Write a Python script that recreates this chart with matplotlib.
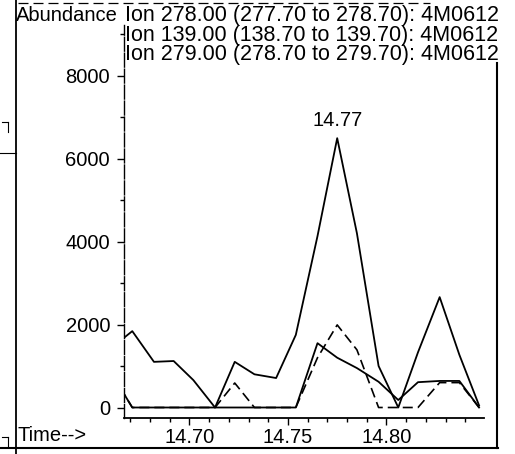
import numpy as np
import matplotlib
matplotlib.use("Agg")
import matplotlib.pyplot as plt
from matplotlib.lines import Line2D
from matplotlib.ticker import MultipleLocator

plt.rcParams['font.family'] = ['Liberation Sans', 'DejaVu Sans']

# retention time (min)
times = [14.661, 14.671, 14.682, 14.692, 14.702, 14.713, 14.723, 14.733, 14.744, 14.754,
         14.765, 14.775, 14.785, 14.796, 14.806, 14.816, 14.827, 14.837, 14.847]
# abundance per ion trace
ion278 = [1460, 1840, 1100, 1120, 660, 0, 1100, 800, 710, 1750,
          4130, 6490, 4200, 1000, 0, 1330, 2660, 1270, 50]
ion139 = [780, 0, 0, 0, 0, 0, 590, 0, 0, 0,
          1200, 1990, 1390, 0, 0, 0, 600, 600, 0]
ion279 = [780, 0, 0, 0, 0, 0, 0, 0, 0, 0,
          1550, 1200, 950, 620, 180, 610, 640, 640, 0]

legend_lines = ["Ion 278.00 (277.70 to 278.70): 4M0612",
                "Ion 139.00 (138.70 to 139.70): 4M0612",
                "Ion 279.00 (278.70 to 279.70): 4M0612"]
peak_label = "14.77"
y_ticks = [0, 2000, 4000, 6000, 8000]
x_ticks = [14.70, 14.75, 14.80]

W, H = 515, 454
fig = plt.figure(figsize=(W / 100, H / 100), dpi=100)

def fx(px):
    return px / W

def fy(py):
    return 1 - py / H

ax = fig.add_axes([fx(124), fy(418), fx(484) - fx(124), fy(25) - fy(418)])
ax.set_xlim(14.6668, 14.8495)
ax.set_ylim(-253, 9217)

ax.plot(times, ion278, color='black', lw=1.3)
ax.plot(times, ion139, color='black', lw=1.2, ls=(0, (6, 3)))
ax.plot(times, ion279, color='black', lw=1.3)

i_max = int(np.argmax(ion278))
ax.annotate(peak_label, (times[i_max], ion278[i_max]), xytext=(0, 6),
            textcoords='offset points', ha='center', va='bottom', fontsize=14.5)

for s in ['top', 'right']:
    ax.spines[s].set_visible(False)
ax.spines['left'].set_linewidth(1.0)
ax.spines['left'].set_linestyle((0, (10, 1.5)))
ax.spines['bottom'].set_linewidth(1.3)

ax.set_yticks(y_ticks)
ax.set_yticklabels([str(v) for v in y_ticks])
ax.yaxis.set_minor_locator(MultipleLocator(1000))
ax.set_xticks(x_ticks)
ax.set_xticklabels([f"{v:.2f}" for v in x_ticks])
ax.xaxis.set_minor_locator(MultipleLocator(0.01))
ax.tick_params(axis='both', which='major', labelsize=14.5, length=5, width=1, direction='out')
ax.tick_params(axis='y', which='major', pad=5)
ax.tick_params(axis='x', which='major', pad=2)
ax.tick_params(axis='both', which='minor', length=3, width=1, direction='out')
ax.patch.set_alpha(0)

# header texts
fig.text(fx(16), fy(21), "Abundance", fontsize=14.5, va='baseline', ha='left')
for k, s in enumerate(legend_lines):
    fig.text(fx(125), fy(21 + 19.5 * k), s, fontsize=15.5, va='baseline', ha='left')
fig.text(fx(18), fy(441), "Time-->", fontsize=14.5, va='baseline', ha='left')

# outer frame from the scanned page
frame = [
    ([16, 16], [0, 454], '-', 1.3),
    ([0, 498], [448, 448], '-', 1.5),
    ([497, 497], [63, 448], '-', 1.5),
    ([18, 430], [3, 3], (0, (8, 4)), 0.9),
    ([0, 16], [153, 153], '-', 0.8),
    ([2, 8], [122, 122], '-', 0.8),
    ([8, 8], [122, 132], '-', 0.8),
    ([2, 8], [437, 437], '-', 0.8),
    ([8, 8], [437, 447], '-', 0.8),
]
for xs, ys, ls, lw in frame:
    fig.add_artist(Line2D([fx(v) for v in xs], [fy(v) for v in ys],
                          color='black', lw=lw, ls=ls, transform=fig.transFigure))

fig.savefig("out.png", dpi=100)
